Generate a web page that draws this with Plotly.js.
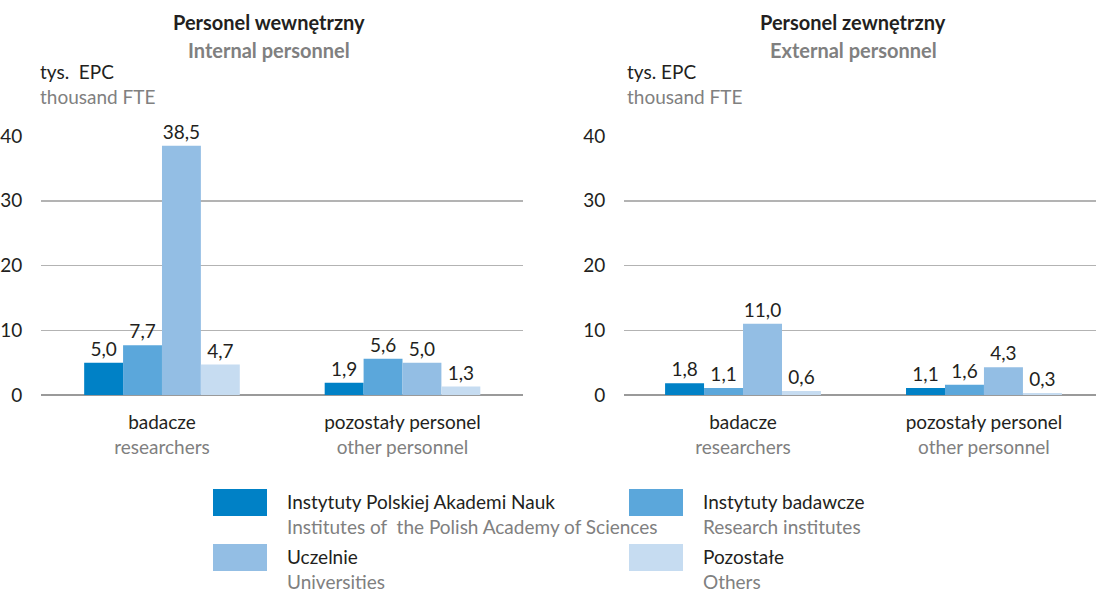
<!DOCTYPE html>
<html>
<head>
<meta charset="utf-8">
<script src="https://cdn.plot.ly/plotly-3.0.1.min.js"></script>
<style>
  html, body { margin: 0; padding: 0; background: #fff; }
  #chart { width: 1096px; height: 595px; }
</style>
</head>
<body>
<div id="chart"></div>
<script>
// ---------- DATA ----------
var categoriesPL = ['badacze', 'pozostały personel'];
var categoriesEN = ['researchers', 'other personnel'];

var seriesPL = ['Instytuty Polskiej Akademi Nauk', 'Instytuty badawcze', 'Uczelnie', 'Pozostałe'];
var seriesEN = ['Institutes of  the Polish Academy of Sciences', 'Research institutes', 'Universities', 'Others'];

// Internal personnel (thousand FTE)
var internalPAN = [5.0, 1.9];
var internalResearch = [7.7, 5.6];
var internalUniv = [38.5, 5.0];
var internalOther = [4.7, 1.3];

// External personnel (thousand FTE)
var externalPAN = [1.8, 1.1];
var externalResearch = [1.1, 1.6];
var externalUniv = [11.0, 4.3];
var externalOther = [0.6, 0.3];

var yTicks = [0, 10, 20, 30, 40];

// ---------- STYLE ----------
var colors = ['#0081c6', '#5ba7db', '#93bee4', '#c6dcf1'];
var FONT = 'Lato, "Noto Sans", sans-serif';
var DARK = '#231f20';
var GRAY = '#808080';
var FS = 19;
var W = 1096, H = 595;
function px(x) { return x / W; }
function py(y) { return 1 - y / H; }
function fmt(v) { return v.toFixed(1).replace('.', ','); }

var internal = [internalPAN, internalResearch, internalUniv, internalOther];
var external = [externalPAN, externalResearch, externalUniv, externalOther];

var tickText = categoriesPL.map(function (c, i) {
  return c + '<br><span style="color:' + GRAY + '">' + categoriesEN[i] + '</span>';
});

var traces = [];
function addTraces(data, xa, ya) {
  data.forEach(function (vals, i) {
    traces.push({
      type: 'bar',
      x: categoriesPL,
      y: vals,
      xaxis: xa,
      yaxis: ya,
      name: seriesPL[i],
      marker: { color: colors[i], line: { width: 0 } },
      text: vals.map(fmt),
      textposition: 'outside',
      constraintext: 'none',
      cliponaxis: false,
      textfont: { family: FONT, size: FS, color: DARK },
      showlegend: false,
      hoverinfo: 'x+y+name'
    });
  });
}
addTraces(internal, 'x', 'y');
addTraces(external, 'x2', 'y2');

var yDomain = [py(395), py(136)];

function xAxis(domain, range) {
  return {
    domain: domain,
    type: 'category',
    range: range,
    tickvals: categoriesPL,
    ticktext: tickText,
    ticks: 'outside',
    ticklen: 10,
    tickcolor: 'rgba(0,0,0,0)',
    tickfont: { family: FONT, size: FS, color: DARK },
    showgrid: false,
    showline: false,
    zeroline: false,
    fixedrange: true
  };
}
function yAxis(anchor) {
  return {
    domain: yDomain,
    anchor: anchor,
    range: [0, 40],
    tickvals: yTicks,
    ticktext: yTicks.map(String),
    ticks: 'outside',
    ticklen: 14,
    tickcolor: 'rgba(0,0,0,0)',
    tickfont: { family: FONT, size: FS, color: DARK },
    showgrid: true,
    gridcolor: '#b3b3b3',
    gridwidth: 1.5,
    zeroline: true,
    zerolinecolor: '#9a9a9a',
    zerolinewidth: 2,
    showline: false,
    fixedrange: true
  };
}

var annotations = [];
function txt(x, y, text, opts) {
  var a = {
    xref: 'paper', yref: 'paper', x: px(x), y: py(y), text: text,
    showarrow: false, xanchor: 'left', yanchor: 'middle',
    font: { family: FONT, size: FS, color: DARK }
  };
  for (var k in opts) a[k] = opts[k];
  annotations.push(a);
}
// Panel titles
txt(269, 22, '<b>Personel wewnętrzny</b>', { xanchor: 'center', font: { family: FONT, size: 20, color: DARK } });
txt(269, 50, '<b>Internal personnel</b>', { xanchor: 'center', font: { family: FONT, size: 20, color: GRAY } });
txt(853, 22, '<b>Personel zewnętrzny</b>', { xanchor: 'center', font: { family: FONT, size: 20, color: DARK } });
txt(853, 50, '<b>External personnel</b>', { xanchor: 'center', font: { family: FONT, size: 20, color: GRAY } });
// Units
txt(38, 71, 'tys.&nbsp;&nbsp;EPC', {});
txt(38, 97, 'thousand FTE', { font: { family: FONT, size: FS, color: GRAY } });
txt(625, 71, 'tys. EPC', {});
txt(625, 97, 'thousand FTE', { font: { family: FONT, size: FS, color: GRAY } });

// Legend (custom)
var shapes = [];
var legPos = [
  { sx: 213, tx: 285, y: 489 },
  { sx: 629, tx: 701, y: 489 },
  { sx: 213, tx: 285, y: 544 },
  { sx: 629, tx: 701, y: 544 }
];
legPos.forEach(function (p, i) {
  shapes.push({
    type: 'rect', xref: 'paper', yref: 'paper',
    x0: px(p.sx), x1: px(p.sx + 54), y0: py(p.y + 27), y1: py(p.y),
    fillcolor: colors[i], line: { width: 0 }
  });
  txt(p.tx, p.y + 12, seriesPL[i], {});
  txt(p.tx, p.y + 37, seriesEN[i], { font: { family: FONT, size: FS, color: GRAY } });
});

var layout = {
  width: W,
  height: H,
  margin: { l: 0, r: 0, t: 0, b: 0 },
  paper_bgcolor: '#ffffff',
  plot_bgcolor: '#ffffff',
  barmode: 'group',
  bargap: 0.353,
  bargroupgap: 0,
  showlegend: false,
  font: { family: FONT, size: FS, color: DARK },
  xaxis: xAxis([px(41), px(523)], [-0.503, 1.501]),
  yaxis: yAxis('x'),
  xaxis2: xAxis([px(624), 1], [-0.494, 1.465]),
  yaxis2: yAxis('x2'),
  annotations: annotations,
  shapes: shapes
};

Plotly.newPlot('chart', traces, layout, { displayModeBar: false, staticPlot: true });
</script>
</body>
</html>
